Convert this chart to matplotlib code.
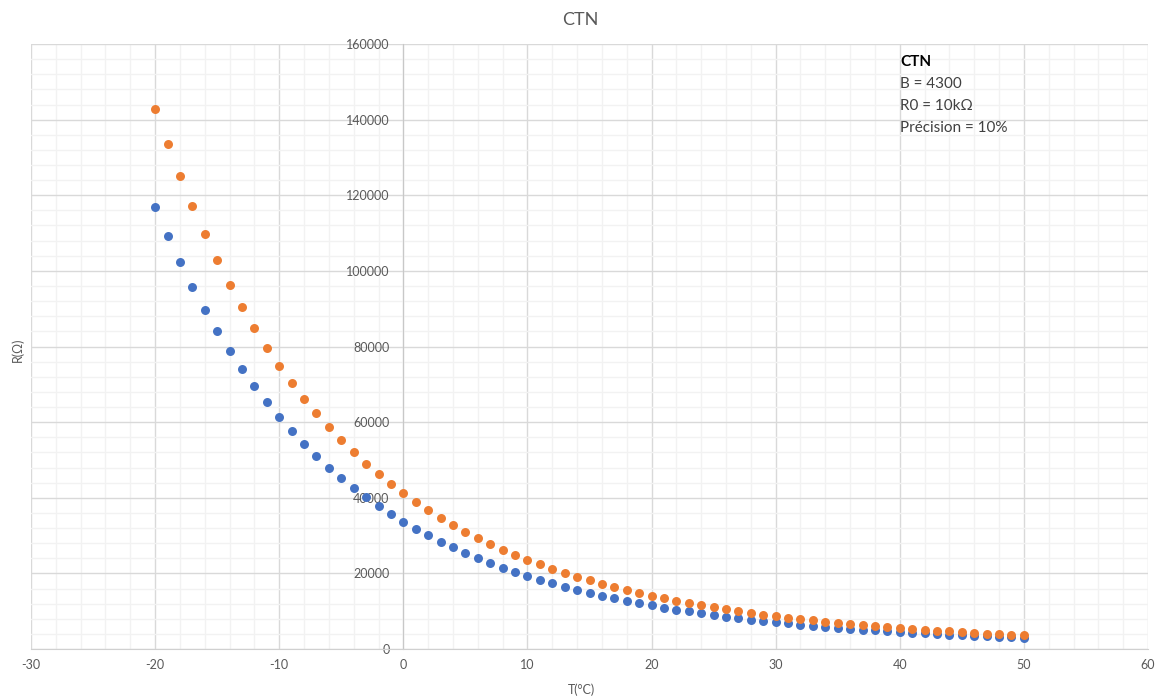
import numpy as np
import matplotlib as mpl
mpl.rcParams['font.family'] = ['Lato', 'DejaVu Sans']
mpl.rcParams['axes.unicode_minus'] = False
import matplotlib.pyplot as plt
from matplotlib.ticker import MultipleLocator

# Temperature (degC) and resistance readings (Ohm)
temp = list(range(-20, 51))
r_min = [116860, 109300, 102290, 95770, 89720, 84100, 78860, 73990, 69450, 65210,
         61280, 57610, 54170, 50970, 47980, 45180, 42570, 40130, 37840, 35690,
         33690, 31820, 30040, 28400, 26850, 25390, 24020, 22730, 21530, 20390,
         19320, 18320, 17370, 16480, 15640, 14850, 14100, 13390, 12740, 12110,
         11510, 10950, 10420, 9920, 9450, 9000, 8580, 8170, 7790, 7430,
         7090, 6770, 6460, 6170, 5900, 5630, 5390, 5150, 4920, 4720,
         4510, 4320, 4130, 3960, 3790, 3640, 3480, 3340, 3200, 3070, 2950]
r_max = [142820, 133600, 125020, 117050, 109660, 102780, 96380, 90430, 84890, 79710,
         74900, 70410, 66210, 62290, 58640, 55220, 52030, 49050, 46240, 43630,
         41170, 38890, 36720, 34710, 32810, 31030, 29360, 27790, 26310, 24930,
         23620, 22390, 21230, 20140, 19120, 18150, 17240, 16370, 15570, 14800,
         14070, 13390, 12740, 12120, 11550, 11000, 10480, 9990, 9530, 9090,
         8670, 8270, 7900, 7550, 7210, 6890, 6590, 6290, 6020, 5760,
         5510, 5280, 5050, 4840, 4630, 4440, 4260, 4080, 3920, 3750, 3610]

info = ['CTN', 'B = 4300', 'R0 = 10k\u03a9', 'Pr\u00e9cision = 10%']

grey = '#595959'
fig = plt.figure(figsize=(11.57, 7.0), dpi=100, facecolor='w')
ax = fig.add_axes([31/1157, 1-649/700, 1117/1157, 605/700])

ax.scatter(temp, r_min, s=42, color='#4472C4', zorder=3, linewidths=0)
ax.scatter(temp, r_max, s=42, color='#ED7D31', zorder=3, linewidths=0)

ax.set_xlim(-30, 60)
ax.set_ylim(0, 160000)
ax.xaxis.set_major_locator(MultipleLocator(10))
ax.xaxis.set_minor_locator(MultipleLocator(2))
ax.yaxis.set_major_locator(MultipleLocator(20000))
ax.yaxis.set_minor_locator(MultipleLocator(4000))
ax.grid(which='major', color='#d9d9d9', lw=1.0, zorder=0)
ax.grid(which='minor', color='#f2f2f2', lw=1.0, zorder=0)
ax.set_axisbelow(True)

for s in ['top', 'right']:
    ax.spines[s].set_visible(False)
ax.spines['left'].set_position(('data', 0))
ax.spines['left'].set_color('#c8c8c8')
ax.spines['bottom'].set_color('#d0d0d0')
ax.tick_params(which='both', length=0)
ax.tick_params(axis='y', pad=10, labelsize=9, labelcolor=grey)
ax.tick_params(axis='x', pad=7, labelsize=9, labelcolor=grey)

fig.text(580/1157, 1-20/700, 'CTN', ha='center', va='center', fontsize=13, color=grey)
fig.text(18/1157, 1-350/700, 'R(\u03a9)', ha='center', va='center', rotation=90,
         fontsize=9, color=grey)
fig.text(582/1157, 1-690/700, 'T(\u00b0C)', ha='center', va='center', fontsize=9, color=grey)

for i, line in enumerate(info):
    fig.text(900/1157, 1-(62+22*i)/700, line, ha='left', va='center', fontsize=11,
             color='black' if i == 0 else '#404040',
             fontweight='bold' if i == 0 else 'normal')

plt.savefig('out.png', dpi=100)
